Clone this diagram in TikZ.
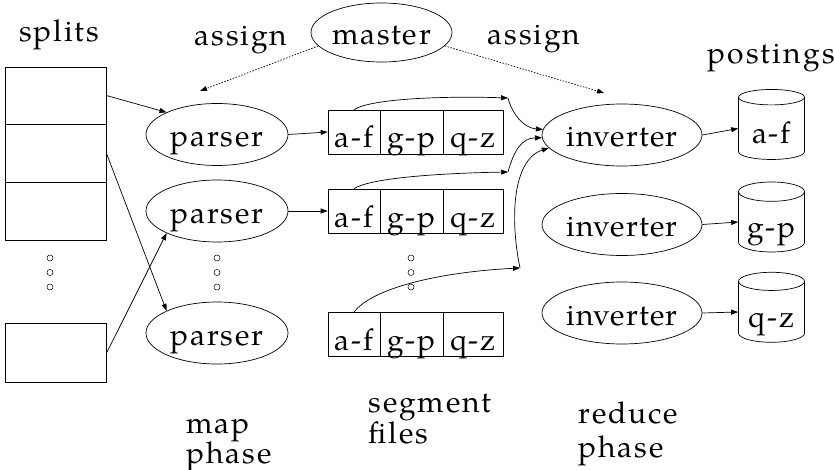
\documentclass[tikz,border=0pt]{standalone}
\usepackage{fontspec}
\setmainfont{TeX Gyre Pagella}[LetterSpace=6]
\usetikzlibrary{shapes.geometric,arrows.meta}
\begin{document}
\begin{tikzpicture}[x=1pt,y=-1pt,
  every node/.style={font=\fontsize{30}{31}\selectfont},
  ell/.style={ellipse,draw,inner sep=0pt,text height=24pt,text depth=0pt},
  cell/.style={rectangle,draw,minimum height=44pt,inner sep=0pt,text height=32pt,text depth=0pt},
  splitbox/.style={rectangle,draw,minimum width=101pt,inner sep=0pt},
  db/.style={cylinder,draw,shape border rotate=90,aspect=0.4,minimum width=66pt,minimum height=70pt,inner sep=0pt,text height=31pt,text depth=0pt},
  dot/.style={circle,draw,line width=0.5pt,minimum size=6pt,inner sep=0pt},
  arr/.style={-{Triangle[length=7pt,width=5pt]}},
  dots/.style={dash pattern=on 1.5pt off 1.5pt},
  line width=0.7pt]
\useasboundingbox (0,0) rectangle (834,470);
% labels
\node[anchor=base] (lsplits) at (59,42) {splits};
\node[anchor=base] (lassign1) at (241,46) {assign};
\node[anchor=base] (lassign2) at (534,45) {assign};
\node[anchor=base] (lpost) at (771,64) {\addfontfeature{LetterSpace=7.5}postings};
% master
\node[ell,minimum width=141pt,minimum height=59pt] (m) at (381.5,32.5) {master};
% splits
\node[splitbox,minimum height=57pt] (s1) at (55.5,95.5) {};
\node[splitbox,minimum height=58pt] (s2) at (55.5,153) {};
\node[splitbox,minimum height=58pt] (s3) at (55.5,211) {};
\node[splitbox,minimum height=59pt] (s4) at (56,352.5) {};
% parsers
\node[ell,minimum width=142pt,minimum height=62pt] (p1) at (217,134.5) {parser};
\node[ell,minimum width=142pt,minimum height=62pt] (p2) at (217,211) {parser};
\node[ell,minimum width=142pt,minimum height=62pt] (p3) at (217,333) {parser};
% segment files
\foreach \r/\y in {1/132,2/211,3/334.5}{
  \node[cell,minimum width=52pt] (c\r1) at (354,\y) {a-f};
  \node[cell,minimum width=63pt] (c\r2) at (411.5,\y) {g-p};
  \node[cell,minimum width=60pt] (c\r3) at (473,\y) {q-z};
}
% inverters
\node[ell,minimum width=160pt,minimum height=62pt] (i1) at (622,135) {\addfontfeature{LetterSpace=4}inverter};
\node[ell,minimum width=160pt,minimum height=62pt] (i2) at (622,224.5) {\addfontfeature{LetterSpace=4}inverter};
\node[ell,minimum width=160pt,minimum height=62pt] (i3) at (622,313) {\addfontfeature{LetterSpace=4}inverter};
% postings
\node[db] (d1) at (771.5,128.5) {a-f};
\node[db] (d2) at (771.5,222) {g-p};
\node[db] (d3) at (771.5,312) {q-z};
% ellipsis dots
\foreach \c/\x in {a/50,b/217,c/411}{
  \node[dot] (\c1) at (\x,258) {};
  \node[dot] (\c2) at (\x,272.5) {};
  \node[dot] (\c3) at (\x,287) {};
}
% bottom labels
\node[anchor=base west,align=left] (lmap) at (183,463) {map\\[-1pt]phase};
\node[anchor=base west,align=left] (lseg) at (365,443) {segment\\files};
\node[anchor=base west,align=left] (lred) at (575,457) {reduce\\[3pt]phase};
% coordinates
\coordinate (t1) at (200,91);
\coordinate (t2) at (604,93);
\coordinate (j1) at (508,98);
\coordinate (j2) at (508,172);
\coordinate (j3) at (520,268);
% connectors
\draw[arr,dots] (m.192) -- (t1);
\draw[arr,dots] (m.348) -- (t2);
\draw[arr] (s1.east) -- (p1.north west);
\draw[arr] (s2.east) -- (p3.north west);
\draw[arr] (s4.east) -- (p2.south west);
\draw[arr] (p1.east) -- (c11.west);
\draw[arr] (p2.east) -- (c21.west);
\draw[arr] (i1.east) -- (d1.west);
\draw[arr] (i2.east) -- (d2.west);
\draw[arr] (i3.east) -- (d3.west);
\draw[arr] (c11.north) .. controls (372,98) and (450,96) .. (j1);
\draw[arr] (j1) .. controls (512,114) and (524,128) .. (i1.176);
\draw[arr] (c21.north) .. controls (372,177) and (450,173) .. (j2);
\draw[arr] (j2) .. controls (514,150) and (522,138) .. (i1.182);
\draw[arr] (c31.north) .. controls (372,288) and (440,272) .. (j3);
\draw[arr] (j3) .. controls (510,220) and (512,160) .. (i1.190);
\end{tikzpicture}
\end{document}
